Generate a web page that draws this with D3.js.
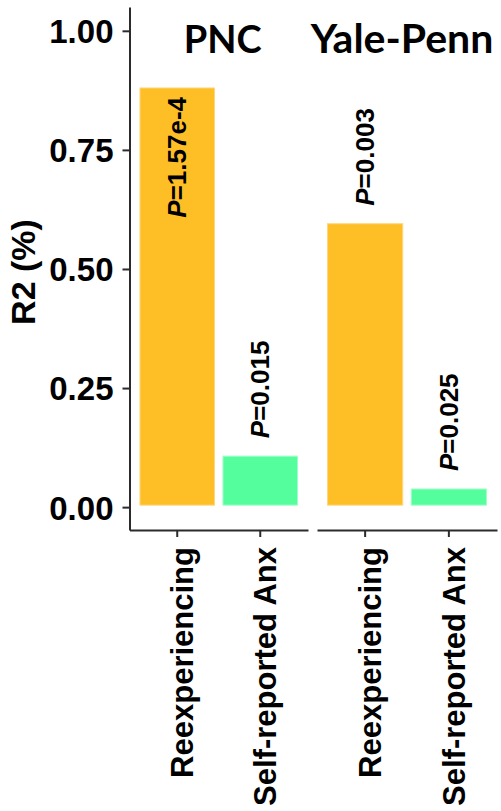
<!DOCTYPE html>
<html>
<head>
<meta charset="utf-8">
<script src="https://cdn.jsdelivr.net/npm/d3@7"></script>
<style>
  html, body { margin: 0; padding: 0; background: #fff; }
  svg { display: block; }
</style>
</head>
<body>
<script>
// ---- data ----
const groups = ["PNC", "Yale-Penn"];
const categories = ["Reexperiencing", "Self-reported Anx"];
const pncValues = [0.880, 0.107];
const yalePennValues = [0.595, 0.038];
const pncPLabels = ["1.57e-4", "0.015"];
const yalePennPLabels = ["0.003", "0.025"];
const yTicks = [0, 0.25, 0.5, 0.75, 1.0];
const barColors = ["#FEBE26", "#55FE9C"];
const barEdges = ["#FFD67C", "#9CFFC6"];

const W = 501, H = 811;
const svg = d3.select("body").append("svg").attr("width", W).attr("height", H);

const y = d3.scaleLinear().domain([-0.048, 1.05]).range([530, 7]);
const axisColor = "#2b2b2b";
const numFont = "'Liberation Sans', Arial, sans-serif";

const panels = [
  { name: groups[0], values: pncValues, labels: pncPLabels, range: [129.5, 308], titleDx: 4, titleSize: 38 },
  { name: groups[1], values: yalePennValues, labels: yalePennPLabels, range: [317, 497], titleDx: -5, titleSize: 41 }
];

// y axis
const yAxis = svg.append("g")
  .attr("transform", "translate(129.5,0)")
  .call(d3.axisLeft(y).tickValues(yTicks).tickFormat(d3.format(".2f")).tickSize(7).tickSizeOuter(0).tickPadding(9));
yAxis.select(".domain").attr("stroke", axisColor).attr("stroke-width", 2);
yAxis.selectAll(".tick line").attr("stroke", axisColor).attr("stroke-width", 2);
yAxis.selectAll(".tick text")
  .attr("fill", "#000").style("font-family", numFont).style("font-weight", "bold").style("font-size", "33px")
  .attr("dy", "0.36em");

// y title
svg.append("text")
  .attr("transform", "translate(35,272) rotate(-90)")
  .attr("text-anchor", "middle")
  .style("font-family", numFont).style("font-weight", "bold").style("font-size", "34px")
  .text("R2 (%)");

panels.forEach((p, pi) => {
  const x = d3.scaleBand().domain(categories).range(p.range).paddingInner(0.09).paddingOuter(0.12);
  const g = svg.append("g");

  // bars
  g.selectAll("rect.bar").data(categories).join("rect")
    .attr("class", "bar")
    .attr("x", d => x(d) + 0.5)
    .attr("width", x.bandwidth() - 1)
    .attr("y", (d, i) => y(p.values[i]))
    .attr("height", (d, i) => y(0) - 2 - y(p.values[i]))
    .attr("fill", (d, i) => barColors[i])
    .attr("stroke", (d, i) => barEdges[i])
    .attr("stroke-width", 1);

  // x axis
  const xa = g.append("g")
    .attr("transform", "translate(0,530)")
    .call(d3.axisBottom(x).tickSize(7).tickSizeOuter(0).tickFormat(""));
  xa.select(".domain").attr("stroke", axisColor).attr("stroke-width", 2);
  xa.selectAll(".tick line").attr("stroke", axisColor).attr("stroke-width", 2);

  // x tick labels
  g.selectAll("text.xl").data(categories).join("text")
    .attr("class", "xl")
    .attr("transform", d => `translate(${x(d) + x.bandwidth() / 2 + 5},547) rotate(-90)`)
    .attr("text-anchor", "end")
    .attr("dy", "0.35em")
    .style("font-family", numFont).style("font-weight", "bold").style("font-size", "31px")
    .text(d => d);

  // p labels
  categories.forEach((c, i) => {
    const cx = x(c) + x.bandwidth() / 2;
    const t = g.append("text")
      .attr("dy", "0.35em")
      .style("font-family", numFont).style("font-weight", "bold").style("font-size", "26px");
    t.append("tspan").style("font-style", "italic").text("P");
    t.append("tspan").text("=" + p.labels[i]);
    const len = t.node().getComputedTextLength();
    const topOut = y(p.values[i]) - 18;
    if (topOut - len < 70) {
      // not enough room above: place inside the bar, from its top
      t.attr("text-anchor", "end")
       .attr("transform", `translate(${cx},${y(p.values[i]) + 9}) rotate(-90)`);
    } else {
      t.attr("text-anchor", "start")
       .attr("transform", `translate(${cx},${topOut}) rotate(-90)`);
    }
  });

  // panel title
  svg.append("text")
    .attr("x", (p.range[0] + p.range[1]) / 2 + p.titleDx)
    .attr("y", 53)
    .attr("text-anchor", "middle")
    .style("font-family", "Lato, 'Open Sans', sans-serif").style("font-weight", "bold").style("font-size", p.titleSize + "px")
    .text(p.name);
});
</script>
</body>
</html>
